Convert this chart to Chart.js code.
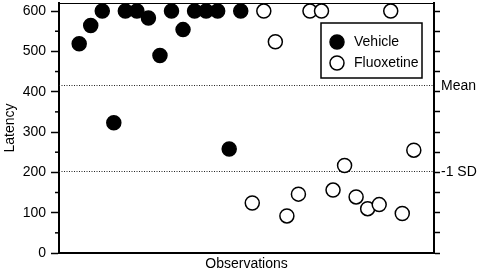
<!DOCTYPE html>
<html>
<head>
<meta charset="utf-8">
<script src="https://cdn.jsdelivr.net/npm/chart.js@4/dist/chart.umd.min.js"></script>
<style>
  html, body { margin: 0; padding: 0; background: #fff; }
  #wrap { width: 480px; height: 273px; }
</style>
</head>
<body>
<div id="wrap"><canvas id="latency_chart"></canvas></div>
<script>
const vehicle_obs = [1, 2, 3, 4, 5, 6, 7, 8, 9, 10, 11, 12, 13, 14, 15];
const vehicle_latency = [519, 564, 600, 323, 600, 600, 583, 490, 600, 554, 600, 600, 600, 258, 600];
const fluoxetine_obs = [16, 17, 18, 19, 20, 21, 22, 23, 24, 25, 26, 27, 28, 29, 30];
const fluoxetine_latency = [124, 600, 524, 92, 146, 600, 600, 156, 217, 139, 110, 120, 600, 98, 255];
const y_ticks = [0, 100, 200, 300, 400, 500, 600];
const y_minor_ticks = [50, 150, 250, 350, 450, 550];
const ref_lines = [416, 203];
const ref_labels = ["Mean", "-1 SD"];

const font_family = "'Liberation Sans', Arial, sans-serif";
const latency_chart = document.getElementById('latency_chart').getContext('2d');

function to_points(xs, ys) {
    return xs.map(function (x, i) { return {x: x, y: ys[i]}; });
}

function no_pad(scale) {
    scale.paddingTop = 0;
    scale.paddingBottom = 0;
}

// dotted mean / -1 SD lines, minor ticks, right-hand labels, legend box
const extras_plugin = {
    id: "extras",
    beforeDatasetsDraw: function (chart) {
        const ctx = chart.ctx;
        const area = chart.chartArea;
        const y = chart.scales.y;
        ctx.save();
        ctx.strokeStyle = "#222";
        ctx.lineWidth = 1;
        ctx.setLineDash([1, 1.5]);
        ref_lines.forEach(function (v) {
            const py = Math.round(y.getPixelForValue(v)) + 0.5;
            ctx.beginPath();
            ctx.moveTo(area.left, py);
            ctx.lineTo(area.right, py);
            ctx.stroke();
        });
        ctx.restore();
    },
    afterDraw: function (chart) {
        const ctx = chart.ctx;
        const area = chart.chartArea;
        const y = chart.scales.y;
        ctx.save();
        // minor ticks on the left axis
        ctx.strokeStyle = "#000";
        ctx.lineWidth = 1.5;
        y_minor_ticks.forEach(function (v) {
            const py = y.getPixelForValue(v);
            ctx.beginPath();
            ctx.moveTo(area.left - 4, py);
            ctx.lineTo(area.left, py);
            ctx.stroke();
        });
        // right labels
        ctx.fillStyle = "#000";
        ctx.font = "14px " + font_family;
        ctx.textAlign = "left";
        ctx.textBaseline = "middle";
        ref_lines.forEach(function (v, i) {
            ctx.fillText(ref_labels[i], area.right + 7, y.getPixelForValue(v) + 1);
        });
        // legend
        const bx = 321, by = 23, bw = 101, bh = 55;
        ctx.fillStyle = "#fff";
        ctx.fillRect(bx, by, bw, bh);
        ctx.strokeStyle = "#000";
        ctx.lineWidth = 1.5;
        ctx.strokeRect(bx, by, bw, bh);
        chart.data.datasets.forEach(function (ds, i) {
            const cy = by + 19 + i * 21;
            ctx.beginPath();
            ctx.arc(bx + 16, cy, 7, 0, Math.PI * 2);
            ctx.fillStyle = ds.backgroundColor;
            ctx.fill();
            ctx.lineWidth = ds.borderWidth;
            ctx.strokeStyle = ds.borderColor;
            ctx.stroke();
            ctx.fillStyle = "#000";
            ctx.fillText(ds.label, bx + 33, cy);
        });
        ctx.restore();
    }
};

new Chart(latency_chart, {
    "type": "scatter",
    "data": {
        "datasets": [{
            "label": "Vehicle",
            "data": to_points(vehicle_obs, vehicle_latency),
            "backgroundColor": "#000",
            "borderColor": "#000",
            "borderWidth": 1.5,
            "pointRadius": 7,
            "pointHoverRadius": 7
        }, {
            "label": "Fluoxetine",
            "data": to_points(fluoxetine_obs, fluoxetine_latency),
            "backgroundColor": "#fff",
            "borderColor": "#000",
            "borderWidth": 1.5,
            "pointRadius": 7,
            "pointHoverRadius": 7
        }]
    },
    "options": {
        "responsive": true,
        "maintainAspectRatio": false,
        "animation": false,
        "layout": {"padding": 0, "autoPadding": false},
        "plugins": {
            "legend": {"display": false},
            "tooltip": {"enabled": false}
        },
        "scales": {
            "x": {
                "type": "linear",
                "position": "bottom",
                "min": -0.75,
                "max": 31.75,
                "ticks": {"display": false},
                "grid": {"display": true, "drawOnChartArea": false, "drawTicks": false},
                "border": {"display": true, "width": 2, "color": "#000"},
                "title": {
                    "display": true,
                    "text": "Observations",
                    "color": "#000",
                    "font": {"family": font_family, "size": 14},
                    "padding": {"top": 2, "bottom": 0}
                },
                "afterFit": function (scale) { scale.height = 20; }
            },
            "x2": {
                "type": "linear",
                "position": "top",
                "min": -0.75,
                "max": 31.75,
                "ticks": {"display": false},
                "grid": {"display": true, "drawOnChartArea": false, "drawTicks": false},
                "border": {"display": true, "width": 1, "color": "#000"},
                "afterFit": function (scale) { scale.height = 3; }
            },
            "y": {
                "position": "left",
                "min": 0,
                "max": 620,
                "afterBuildTicks": function (scale) {
                    scale.ticks = y_ticks.map(function (v) { return {value: v}; });
                },
                "ticks": {
                    "color": "#000",
                    "padding": 5,
                    "font": {"family": font_family, "size": 14}
                },
                "grid": {"display": true, "drawOnChartArea": false, "tickLength": 8, "tickColor": "#000", "tickWidth": 1.5},
                "border": {"display": true, "width": 2, "color": "#000"},
                "title": {
                    "display": true,
                    "text": "Latency",
                    "color": "#000",
                    "font": {"family": font_family, "size": 14},
                    "padding": {"top": 2, "bottom": 0}
                },
                "afterFit": function (scale) { scale.width = 59; no_pad(scale); }
            },
            "y2": {
                "position": "right",
                "min": 0,
                "max": 620,
                "afterBuildTicks": function (scale) {
                    scale.ticks = y_ticks.concat(y_minor_ticks).map(function (v) { return {value: v}; });
                },
                "ticks": {"display": false},
                "grid": {"display": true, "drawOnChartArea": false, "tickLength": 6, "tickColor": "#000", "tickWidth": 1.5},
                "border": {"display": true, "width": 2, "color": "#000"},
                "afterFit": function (scale) { scale.width = 46; no_pad(scale); }
            }
        }
    },
    "plugins": [extras_plugin]
});
</script>
</body>
</html>
